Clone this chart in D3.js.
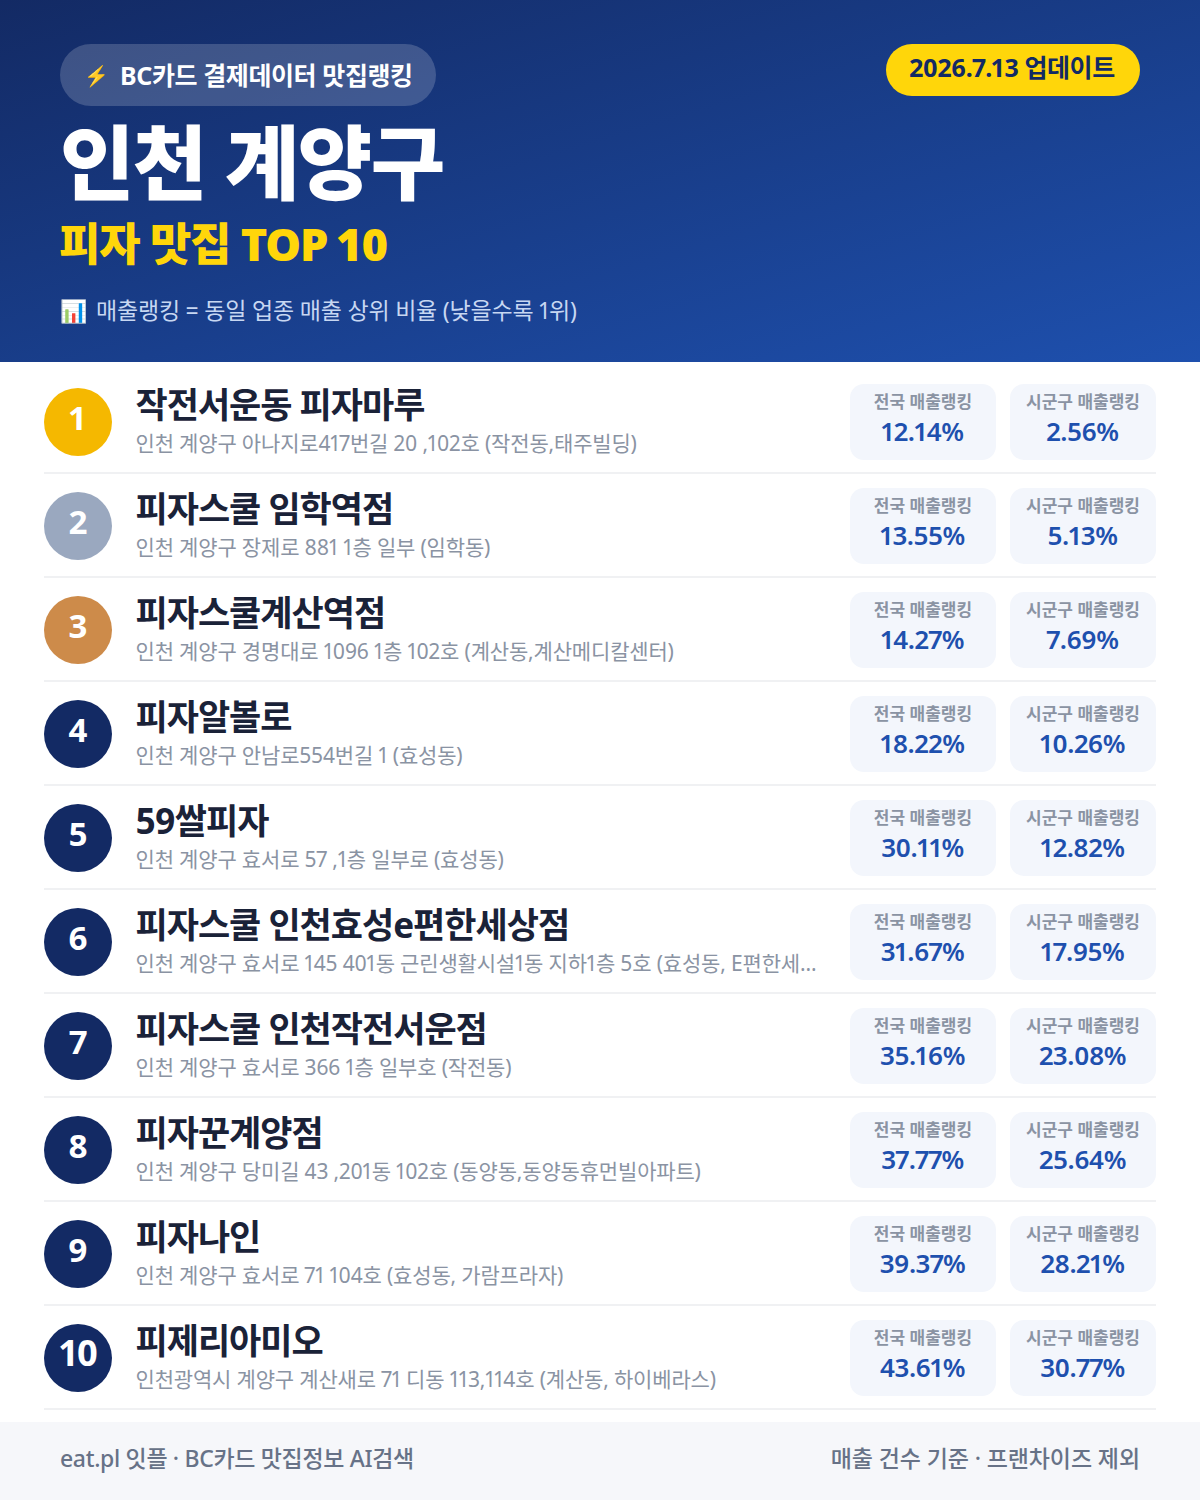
<!DOCTYPE html>
<html lang="ko"><head><meta charset="utf-8">
<script src="https://cdn.jsdelivr.net/npm/d3@7/dist/d3.min.js"></script>
<style>html,body{margin:0;padding:0;background:#fff}svg{display:block}text{font-family:"Noto Sans","Noto Sans CJK KR",sans-serif;font-variant-numeric:proportional-nums}</style>
</head><body><div id="c"></div>
<script>
const ranks=[1,2,3,4,5,6,7,8,9,10];
const names=["작전서운동 피자마루","피자스쿨 임학역점","피자스쿨계산역점","피자알볼로","59쌀피자","피자스쿨 인천효성e편한세상점","피자스쿨 인천작전서운점","피자꾼계양점","피자나인","피제리아미오"];
const addresses=["인천 계양구 아나지로417번길 20 ,102호 (작전동,태주빌딩)","인천 계양구 장제로 881 1층 일부 (임학동)","인천 계양구 경명대로 1096 1층 102호 (계산동,계산메디칼센터)","인천 계양구 안남로554번길 1 (효성동)","인천 계양구 효서로 57 ,1층 일부로 (효성동)","인천 계양구 효서로 145 401동 근린생활시설1동 지하1층 5호 (효성동, E편한세…","인천 계양구 효서로 366 1층 일부호 (작전동)","인천 계양구 당미길 43 ,201동 102호 (동양동,동양동휴먼빌아파트)","인천 계양구 효서로 71 104호 (효성동, 가람프라자)","인천광역시 계양구 계산새로 71 디동 113,114호 (계산동, 하이베라스)"];
const nationalRank=[12.14,13.55,14.27,18.22,30.11,31.67,35.16,37.77,39.37,43.61];
const districtRank=[2.56,5.13,7.69,10.26,12.82,17.95,23.08,25.64,28.21,30.77];
const medalColors=["#f5b800","#9aa8bf","#cd8b4a"];
const W=1200,H=1500;
const svg=d3.select("#c").append("svg").attr("width",W).attr("height",H).attr("viewBox",`0 0 ${W} ${H}`);
const g=svg.append("defs").append("linearGradient").attr("id","hdr").attr("x1","0%").attr("y1","0%").attr("x2","100%").attr("y2","100%");
g.append("stop").attr("offset","0%").attr("stop-color","#132a64");
g.append("stop").attr("offset","100%").attr("stop-color","#1e50ae");
svg.append("rect").attr("width",W).attr("height",362).attr("fill","url(#hdr)");
function T(p,x,y,s,size,weight,fill,anchor,ls){return p.append("text").attr("x",x).attr("y",y).text(s).attr("font-size",size).attr("font-weight",weight).attr("fill",fill).attr("text-anchor",anchor||"start").attr("letter-spacing",ls||0)}
svg.append("rect").attr("x",60).attr("y",44).attr("width",376).attr("height",62).attr("rx",31).attr("fill","#fff").attr("fill-opacity",.18);
T(svg,84,83,"⚡",20,400,"#ffc83d");
T(svg,120,85,"BC카드 결제데이터 맛집랭킹",25,700,"#fff","start",-.4);
svg.append("rect").attr("x",886).attr("y",44).attr("width",254).attr("height",52).attr("rx",26).attr("fill","#ffd60a");
T(svg,1012,77,"2026.7.13 업데이트",25,700,"#132a64","middle",-.4);
T(svg,60,193,"인천 계양구",81,900,"#fff","start",-1.7);
T(svg,59,261,"피자 맛집 TOP 10",45,900,"#ffd60a","start",-1.2);
T(svg,60,319,"📊",22,400,"#fff");
T(svg,96,319,"매출랭킹 = 동일 업종 매출 상위 비율 (낮을수록 1위)",23,400,"#c7d7f2","start",-.2);
const y=d3.scaleBand().domain(ranks).range([370,1410]).padding(0);
const row=svg.selectAll("g.row").data(ranks).join("g").attr("class","row").attr("transform",d=>`translate(0,${y(d)})`);
row.append("rect").attr("x",44).attr("y",y.bandwidth()-2).attr("width",1112).attr("height",2).attr("fill","#f0f1f3");
row.append("circle").attr("cx",78).attr("cy",52).attr("r",34).attr("fill",(d,i)=>medalColors[i]||"#132a64");
row.append("text").attr("x",78).attr("y",60).attr("text-anchor","middle").attr("font-size",d=>d==10?36:33).attr("font-weight",700).attr("fill","#fff").attr("letter-spacing",d=>d==10?-2:0).text(d=>d);
row.append("text").attr("x",135.5).attr("y",47.5).attr("font-size",35).attr("font-weight",700).attr("fill","#1a2238").attr("letter-spacing",-1).text((d,i)=>names[i]);
row.append("text").attr("x",135.5).attr("y",81).attr("font-size",21).attr("font-weight",400).attr("fill","#8a93a3").attr("letter-spacing",-.17).text((d,i)=>addresses[i]);
[[850,"전국 매출랭킹",nationalRank],[1010,"시군구 매출랭킹",districtRank]].forEach(([x,label,vals])=>{
 row.append("rect").attr("x",x).attr("y",14).attr("width",146).attr("height",76).attr("rx",14).attr("fill","#f3f6fc");
 row.append("text").attr("x",x+73).attr("y",37.5).attr("text-anchor","middle").attr("font-size",17).attr("font-weight",700).attr("fill","#8a93a3").text(label);
 row.append("text").attr("x",x+72.5).attr("y",71).attr("text-anchor","middle").attr("font-size",26).attr("font-weight",600).attr("fill","#1e50ae").attr("letter-spacing",-.5).text((d,i)=>d3.format(".2f")(vals[i])+"%");
});
svg.append("rect").attr("y",1422).attr("width",W).attr("height",78).attr("fill","#f6f7fa");
T(svg,60,1467,"eat.pl 잇플 · BC카드 맛집정보 AI검색",23,500,"#677287","start",-.33);
T(svg,1140,1467,"매출 건수 기준 · 프랜차이즈 제외",23,500,"#677287","end",-.1);
</script></body></html>
